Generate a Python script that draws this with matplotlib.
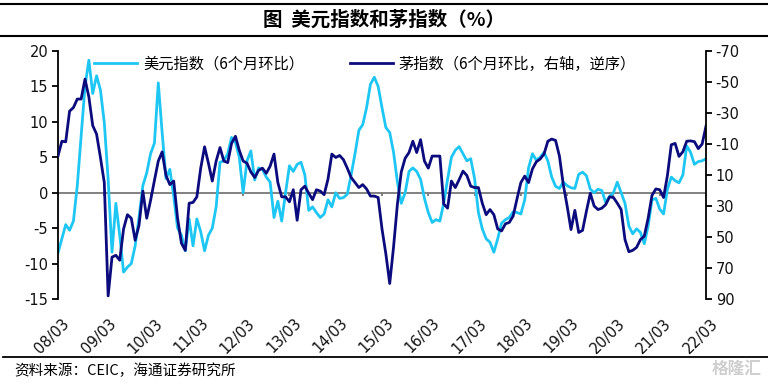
import matplotlib.pyplot as plt
from matplotlib.lines import Line2D
from matplotlib.transforms import ScaledTranslation
import numpy as np
import pandas as pd

plt.rcParams['font.family'] = ['Noto Sans CJK SC', 'DejaVu Sans']
plt.rcParams['axes.unicode_minus'] = False

# 月度数据：2008/03 - 2022/03
months = pd.date_range('2008-03-01', '2022-03-01', freq='MS')
year_labels = ['08/03', '09/03', '10/03', '11/03', '12/03', '13/03', '14/03', '15/03',
               '16/03', '17/03', '18/03', '19/03', '20/03', '21/03', '22/03']

# 美元指数（6个月环比，%）
usd = [
    -8.5, -6.5, -4.5, -5.3, -4.0, 1.0, 8.0, 15.0, 18.7, 14.0, 16.5, 14.5,
    9.9, 1.9, -8.4, -1.5, -6.0, -11.2, -10.5, -10.0, -7.5, -3.5, 1.0, 2.8,
    5.5, 7.0, 15.5, 8.5, 2.0, 3.3, -0.5, -5.0, -6.0, -8.2, -3.7, -7.5,
    -3.7, -5.5, -8.2, -6.0, -5.0, -2.0, 4.3, 4.5, 5.5, 7.8, 7.1, 5.0,
    0.0, 4.5, 5.9, 1.8, 3.5, 3.3, 2.2, 1.5, -3.5, -1.2, -4.0, 0.0,
    3.8, 3.0, 4.0, 4.3, 2.5, -2.5, -2.0, -2.8, -3.5, -3.0, -1.0, -2.0,
    0.0, -0.8, -0.7, -0.2, 2.5, 5.5, 8.8, 9.6, 12.0, 15.3, 16.3, 15.0,
    12.0, 9.2, 8.5, 5.7, 1.5, -1.5, 0.0, 3.0, 3.5, 3.0, 1.9, -0.8,
    -2.8, -4.2, -3.8, -4.0, -1.5, 1.9, 5.0, 6.0, 6.5, 5.5, 4.5, 4.8,
    2.0, -2.8, -5.1, -6.5, -7.0, -8.4, -6.5, -4.3, -3.8, -3.5, -2.7, -2.8,
    -3.0, -1.0, 3.5, 5.5, 4.6, 5.0, 5.7, 4.5, 2.2, 0.9, 0.6, 1.5,
    1.0, 0.7, 0.6, 2.6, 2.9, 2.4, 0.5, 0.0, 0.5, 0.3, -1.4, -0.5,
    0.0, 1.5, 0.0, -1.5, -4.7, -5.8, -5.1, -5.6, -7.2, -4.7, -1.0, -0.8,
    -2.3, -3.0, 0.5, 2.2, 1.7, 1.4, 2.5, 6.6, 5.7, 4.0, 4.4, 4.5,
    4.8,
]

# 茅指数（6个月环比，%，右轴逆序）
mao = [
    -2.2, -11.8, -11.4, -31.2, -33.5, -39.0, -39.0, -51.9, -40.4, -21.9, -16.4, -1.3,
    14.9, 88.0, 63.0, 61.8, 65.0, 44.8, 35.6, 37.9, 52.1, 42.5, 20.4, 37.9,
    26.4, 13.5, 1.0, -4.9, 10.3, 16.2, 13.9, 37.9, 54.0, 58.6, 28.2, 27.7,
    24.1, 5.6, -8.2, 2.4, 13.9, 1.0, -7.7, 1.0, 2.0, -10.4, -15.0, -5.9,
    1.0, 2.4, 8.0, 11.6, 7.0, 5.6, 8.9, 4.3, -3.5, 14.9, 24.1, 24.1,
    27.3, 19.5, 39.2, 19.5, 17.2, 21.8, 25.9, 19.5, 20.4, 22.7, 12.6, -3.5,
    -1.3, -2.6, 0.1, 5.6, 11.6, 14.9, 18.1, 16.2, 19.0, 23.6, 23.6, 24.5,
    44.8, 60.9, 80.0, 56.3, 28.7, 8.0, -0.8, -4.5, -11.8, -4.5, -12.8, 1.0,
    5.6, -2.2, -2.2, -2.2, 28.7, 31.4, 13.9, 18.1, 13.0, 7.5, 10.3, 17.2,
    18.1, 18.1, 28.2, 35.6, 32.3, 35.6, 44.8, 46.1, 41.5, 40.6, 36.5, 25.4,
    14.9, 10.7, 14.9, 6.1, 1.5, -0.3, -3.5, -11.8, -13.2, -12.3, -2.2, 16.2,
    30.0, 45.2, 32.8, 47.1, 45.7, 33.3, 21.8, 30.0, 32.3, 31.4, 29.1, 24.1,
    24.5, 28.2, 32.3, 51.7, 59.5, 58.6, 56.7, 51.7, 49.4, 37.9, 23.1, 19.0,
    19.5, 24.5, 10.3, -9.5, -10.4, -2.0, -5.0, -11.8, -12.0, -11.5, -7.0, -10.0,
    -21.5,
]

CYAN = '#1EC6F4'
NAVY = '#0B0B7E'
W, H = 768, 386

x = np.arange(len(months))
year_pos = x[::12]

fig = plt.figure(figsize=(W / 100, H / 100), dpi=100)
ax = fig.add_axes([58 / W, 1 - 299 / H, 648 / W, 248 / H])

l1, = ax.plot(x, usd, color=CYAN, lw=2, label='美元指数（6个月环比）')
ax.axhline(0, color='#777777', lw=1.3, zorder=1)
ax.vlines(year_pos, -0.45, 0, color='#777777', lw=1.3, zorder=1)
ax.set_xlim(0, len(x) - 1)
ax.set_ylim(-15, 20)
ax.set_yticks(np.arange(-15, 21, 5))

ax2 = ax.twinx()
l2, = ax2.plot(x, mao, color=NAVY, lw=2, label='茅指数（6个月环比，右轴，逆序）')
ax2.set_ylim(90, -70)
ax2.set_yticks(np.arange(-70, 91, 20))

for a in (ax, ax2):
    for s in ('top', 'bottom'):
        a.spines[s].set_visible(False)
ax.spines['right'].set_visible(False)
ax2.spines['left'].set_visible(False)
ax.spines['left'].set_linewidth(1.3)
ax2.spines['right'].set_linewidth(1.3)

tick_font = dict(family='DejaVu Sans', size=10.5, color='#111111')
ax.tick_params(axis='y', direction='out', length=4, width=1.3, pad=3)
ax2.tick_params(axis='y', direction='out', length=4, width=1.3, pad=3)
for lbl in ax.get_yticklabels() + ax2.get_yticklabels():
    lbl.set(**tick_font)

ax.set_xticks(year_pos)
ax.set_xticklabels(year_labels, rotation=45, ha='right', va='top',
                   rotation_mode='anchor', **tick_font)
ax.tick_params(axis='x', length=0, pad=12)
shift = ScaledTranslation(4 / 100, 0, fig.dpi_scale_trans)
for lbl in ax.get_xticklabels():
    lbl.set_transform(lbl.get_transform() + shift)

fig.legend(handles=[l1, l2], loc='center left', bbox_to_anchor=(94 / W, 1 - 64 / H),
           ncol=2, frameon=False, fontsize=11, handlelength=2.8, handletextpad=0.4,
           columnspacing=3.0, borderpad=0, borderaxespad=0)

# 标题与上下横线
fig.add_artist(Line2D([0, 1], [1 - 3.5 / H] * 2, color='black', lw=1.5))
fig.add_artist(Line2D([0, 1], [1 - 35.5 / H] * 2, color='black', lw=1.5))
fig.add_artist(Line2D([3 / W, 1], [1 - 357 / H] * 2, color='black', lw=1.3))
fig.text(0.5, 1 - 20 / H, '图  美元指数和茅指数（%）', ha='center', va='center',
         fontsize=14, fontweight='bold')
fig.text(14 / W, 1 - 371 / H, '资料来源：CEIC，海通证券研究所', ha='left', va='center',
         fontsize=10.5)
fig.text(762 / W, 1 - 369 / H, '格隆汇', ha='right', va='center', fontsize=12,
         color='#cfcfcf', fontweight='bold')

fig.savefig('out.png', dpi=100)
